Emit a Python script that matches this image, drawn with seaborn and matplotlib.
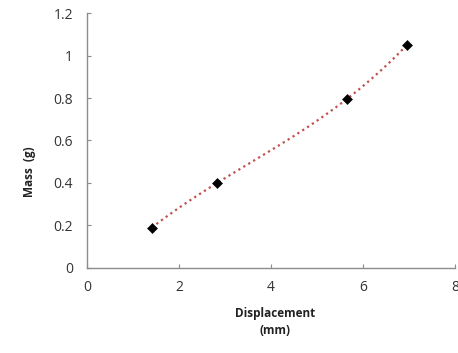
import numpy as np
import pandas as pd
import seaborn as sns
import matplotlib.pyplot as plt

# data
displacement = [1.41, 2.83, 5.65, 6.96]
mass = [0.19, 0.40, 0.795, 1.05]

df = pd.DataFrame({"Displacement": displacement, "Mass": mass})

# polynomial trendline through the measured points
coef = np.polyfit(df["Displacement"], df["Mass"], 3)
xs = np.linspace(min(displacement), max(displacement), 100)
trend = pd.DataFrame({"x": xs, "y": np.polyval(coef, xs)})

sns.set_style("white")
plt.rcParams['font.family'] = ['Open Sans', 'DejaVu Sans']

fig = plt.figure(figsize=(4.58, 3.53), dpi=100)
ax = fig.add_axes([0.19, 0.241, 0.803, 0.722])

sns.lineplot(data=trend, x="x", y="y", ax=ax, color="#c0504d",
             linestyle=(0, (1, 1.6)), linewidth=1.6)
sns.scatterplot(data=df, x="Displacement", y="Mass", ax=ax, marker="D",
                color="black", s=26, edgecolor="black", zorder=3)

ax.set_xlim(0, 8)
ax.set_ylim(0, 1.2)
ax.set_xticks([0, 2, 4, 6, 8])
ax.set_yticks([0, 0.2, 0.4, 0.6, 0.8, 1.0, 1.2])
ax.set_yticklabels(["0", "0.2", "0.4", "0.6", "0.8", "1", "1.2"])
ax.set_xlabel("")
ax.set_ylabel("")

for s in ["top", "right"]:
    ax.spines[s].set_visible(False)
for s in ["left", "bottom"]:
    ax.spines[s].set_color("#8c8c8c")
    ax.spines[s].set_linewidth(1.0)

ax.tick_params(direction="in", length=3, color="#8c8c8c", labelsize=10,
               labelcolor="#333333", left=True, bottom=True)
ax.tick_params(axis="x", pad=9)
ax.tick_params(axis="y", pad=10)

fig.text(30 / 458, 1 - 172 / 353, "Mass  (g)", rotation=90, ha="center",
         va="center", fontsize=8.5, fontweight="bold", color="#222222")
fig.text(275 / 458, 1 - 322 / 353, "Displacement\n(mm)", ha="center",
         va="center", fontsize=8.5, fontweight="bold", color="#222222",
         linespacing=1.4)

fig.savefig("out.png", dpi=100)
